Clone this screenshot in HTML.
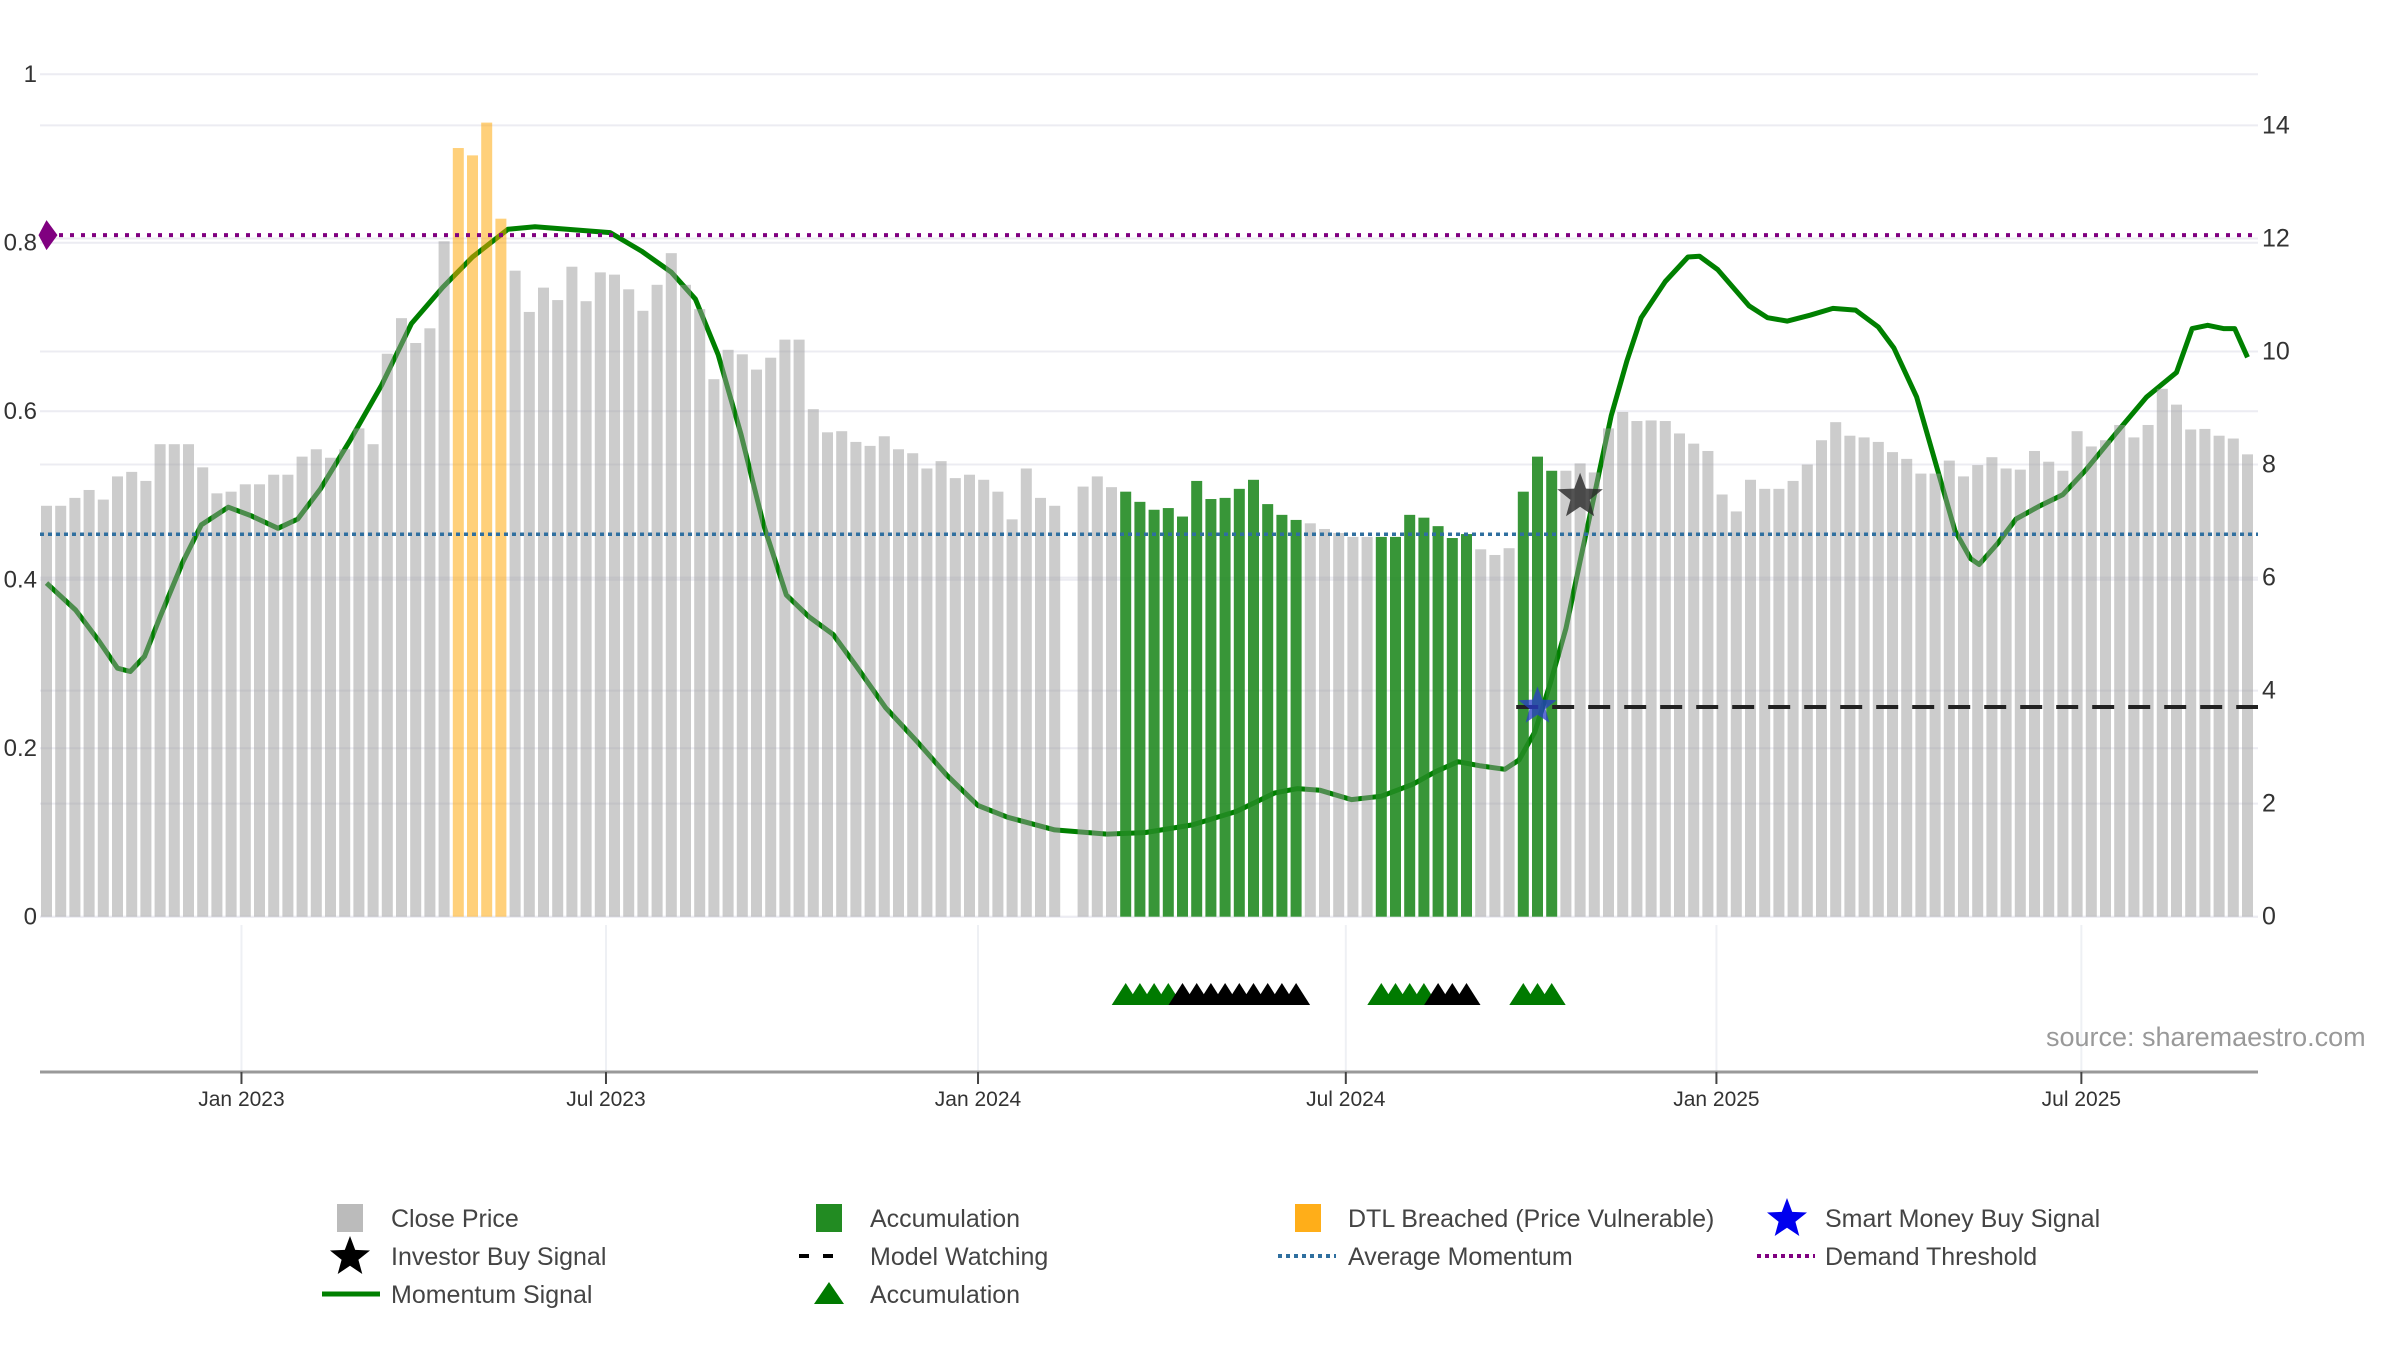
<!DOCTYPE html>
<html><head><meta charset="utf-8"><style>
html,body{margin:0;padding:0;background:#fff;}
svg{display:block;font-family:"Liberation Sans","DejaVu Sans",sans-serif;}
</style></head><body>
<svg id="chart" width="2400" height="1350" viewBox="0 0 2400 1350" xmlns="http://www.w3.org/2000/svg">
<g id="grid"></g>
<g id="lines-under"></g>
<g id="bars"></g>
<g id="overlay"></g>
<g id="axes"></g>
<g id="legend"></g>
</svg>
<script>
const prices = [7.27,7.27,7.41,7.55,7.38,7.79,7.87,7.71,8.36,8.36,8.36,7.95,7.49,7.52,7.65,7.65,7.82,7.82,8.14,8.27,8.12,8.27,8.64,8.36,9.96,10.59,10.15,10.41,11.95,13.6,13.47,14.05,12.35,11.43,10.70,11.13,10.91,11.50,10.89,11.40,11.36,11.10,10.72,11.18,11.74,11.18,10.75,9.51,10.03,9.95,9.68,9.89,10.21,10.21,8.98,8.57,8.59,8.40,8.33,8.50,8.27,8.20,7.93,8.06,7.76,7.82,7.73,7.52,7.03,7.93,7.41,7.27,
null,7.61,7.79,7.60,
7.52,7.34,7.20,7.23,7.08,7.71,7.39,7.41,7.57,7.73,7.30,7.11,7.02,
6.96,6.86,6.79,6.72,6.72,
6.72,6.72,7.11,7.06,6.91,6.70,6.77,
6.50,6.40,6.52,
7.52,8.14,7.89,
7.89,8.02,7.86,8.64,8.93,8.77,8.78,8.77,8.55,8.37,8.24,7.47,7.17,7.73,7.57,7.57,7.71,8.0,8.43,8.75,8.51,8.48,8.40,8.22,8.10,7.84,7.84,8.07,7.79,7.99,8.13,7.93,7.91,8.24,8.05,7.89,8.59,8.32,8.43,8.70,8.48,8.70,9.34,9.06,8.62,8.63,8.51,8.46,8.18];
const accumBarIdx = [76,77,78,79,80,81,82,83,84,85,86,87,88,94,95,96,97,98,99,100,104,105,106];
const dtlBarIdx = [29,30,31,32];
const momWeek = [0,2.05,3.66,5.0,5.9,6.9,8.0,9.6,10.9,12.8,14.4,16.3,17.7,19.3,21.4,23.6,25.7,27.9,30.0,32.5,34.4,39.7,41.9,44.0,45.7,47.3,48.9,50.5,52.1,53.7,55.4,57.0,59.1,61.3,63.4,65.6,67.7,71.0,74.7,77.4,80.7,83.8,86.5,88.1,89.7,91.9,94.0,96.2,97.8,99.4,101.0,102.7,103.7,104.8,105.9,107.0,108.0,109.1,110.2,111.3,112.3,114.0,115.6,116.4,117.7,119.9,121.2,122.6,124.2,125.8,127.4,129.0,130.1,131.7,132.8,134.4,135.5,136.1,137.4,138.7,140.3,142.0,143.6,145.7,147.9,150.0,151.1,152.2,153.3,154.1,155.0];
const momValue = [0.396,0.364,0.328,0.295,0.291,0.309,0.356,0.421,0.465,0.486,0.476,0.461,0.472,0.508,0.566,0.631,0.704,0.747,0.783,0.816,0.819,0.812,0.790,0.765,0.733,0.667,0.573,0.465,0.382,0.356,0.335,0.298,0.248,0.208,0.168,0.132,0.118,0.103,0.098,0.100,0.109,0.125,0.147,0.152,0.150,0.139,0.143,0.157,0.172,0.184,0.179,0.175,0.186,0.219,0.277,0.342,0.422,0.508,0.595,0.660,0.711,0.754,0.783,0.784,0.768,0.725,0.711,0.707,0.714,0.722,0.720,0.700,0.675,0.617,0.552,0.458,0.425,0.418,0.443,0.472,0.487,0.501,0.530,0.573,0.617,0.646,0.698,0.702,0.698,0.698,0.664];
const accumTriIdx = [76,77,78,79,94,95,96,97,104,105,106];
const watchTriIdx = [80,81,82,83,84,85,86,87,88,98,99,100];
const demandThreshold = [0.809];
const averageMomentum = [0.454];
const modelWatchLevel = [3.71];
const modelWatchStart = [103.5];
const investorBuy = [108, 7.43];
const smartMoneyBuy = [105, 3.72];
const leftTicks = [0,0.2,0.4,0.6,0.8,1];
const leftTickLabels = ["0","0.2","0.4","0.6","0.8","1"];
const rightTicks = [0,2,4,6,8,10,12,14];
const dateTickIdx = [13.73,39.4,65.6,91.5,117.6,143.3];
const dateTickLabels = ["Jan 2023","Jul 2023","Jan 2024","Jul 2024","Jan 2025","Jul 2025"];

const NS="http://www.w3.org/2000/svg";
const X0=46.5, DX=14.2, Y0=916.7, PL=40, PR=2258;
function xS(i){return X0+i*DX;}
function yP(p){return Y0-p*56.52;}
function yM(v){return Y0-v*842.5;}
function mk(tag,attrs,parent){const e=document.createElementNS(NS,tag);for(const k in attrs)e.setAttribute(k,attrs[k]);parent.appendChild(e);return e;}
const G=id=>document.getElementById(id);

const grid=G('grid');
rightTicks.forEach(t=>{const l=mk('line',{x1:PL,x2:PR,y1:yP(t),y2:yP(t),stroke:'#ececf2','stroke-width':2},grid);

});
leftTicks.forEach(t=>{const l=mk('line',{x1:PL,x2:PR,y1:yM(t),y2:yM(t),stroke:'#ececf2','stroke-width':2},grid);

});
dateTickIdx.forEach(t=>{const l=mk('line',{x1:xS(t),x2:xS(t),y1:925,y2:1074,stroke:'#eef0f4','stroke-width':2},grid);

});

let d='';momWeek.forEach((w,k)=>{d+=(k?'L':'M')+xS(w).toFixed(1)+' '+yM(momValue[k]).toFixed(1)+' ';});
const ml=mk('path',{d:d,fill:'none',stroke:'#008000','stroke-width':5,'stroke-linejoin':'round'},G('lines-under'));



const bars=G('bars');const BW=11;
prices.forEach((p,i)=>{if(p==null)return;
 let fill='#999999',op=0.5,name='close-price-bar';
 if(dtlBarIdx.includes(i)){fill='#FFA500';op=0.52;name='dtl-breached-bar';}
 if(accumBarIdx.includes(i)){fill='#228B22';op=0.9;name='accumulation-bar';}
 const r=mk('rect',{x:xS(i)-BW/2,y:yP(p),width:BW,height:Y0-yP(p),fill:fill,'fill-opacity':op},bars);
 
 
});

const ov=G('overlay');
let l1=mk('line',{x1:PL+8,x2:PR,y1:yM(demandThreshold[0]),y2:yM(demandThreshold[0]),stroke:'#800080','stroke-width':4,'stroke-dasharray':'4 7'},ov);


let dm=mk('path',{d:`M${X0} ${yM(demandThreshold[0])-15} L${X0+11} ${yM(demandThreshold[0])} L${X0} ${yM(demandThreshold[0])+15} L${X0-8} ${yM(demandThreshold[0])} Z`,fill:'#800080'},ov);


let l2=mk('line',{x1:PL,x2:PR,y1:yM(averageMomentum[0]),y2:yM(averageMomentum[0]),stroke:'#2f6f9f','stroke-width':3.5,'stroke-dasharray':'4 4'},ov);


let l3=mk('line',{x1:xS(modelWatchStart[0]),x2:PR,y1:yP(modelWatchLevel[0]),y2:yP(modelWatchLevel[0]),stroke:'#222','stroke-width':4,'stroke-dasharray':'22 14'},ov);


function star(cx,cy,R,fill,parent){let pts=[];for(let k=0;k<10;k++){const a=-Math.PI/2+k*Math.PI/5;const r=k%2?R*0.42:R;pts.push((cx+r*Math.cos(a)).toFixed(1)+','+(cy+r*Math.sin(a)).toFixed(1));}
 return mk('polygon',{points:pts.join(' '),fill:fill},parent);}
let s1=star(xS(investorBuy[0]),yP(investorBuy[1]),24,'rgba(40,40,40,0.8)',ov);


let s2=star(xS(smartMoneyBuy[0]),yP(smartMoneyBuy[1]),20,'rgba(40,60,200,0.75)',ov);



function tri(i,fill,name){const cx=xS(i);const t=mk('polygon',{points:`${cx-14},1005 ${cx},983 ${cx+14},1005`,fill:fill},ov);
 
 }
accumTriIdx.forEach(i=>tri(i,'#007a00','accumulation-triangle'));
watchTriIdx.forEach(i=>tri(i,'#000','model-watching-triangle'));

const ax=G('axes');
let bl=mk('line',{x1:PL,x2:PR,y1:1072,y2:1072,stroke:'#999','stroke-width':3},ax);


dateTickIdx.forEach((t,k)=>{const tk=mk('line',{x1:xS(t),x2:xS(t),y1:1072,y2:1084,stroke:'#444','stroke-width':2},ax);
 
 
 const tx=mk('text',{x:xS(t),y:1106,'text-anchor':'middle','font-size':21,fill:'#333'},ax);tx.textContent=dateTickLabels[k];
 
 });
leftTicks.forEach((t,k)=>{const tx=mk('text',{x:37,y:yM(t)+8,'text-anchor':'end','font-size':24,fill:'#333'},ax);tx.textContent=leftTickLabels[k];
 
 });
rightTicks.forEach(t=>{const tx=mk('text',{x:2262,y:yP(t)+8,'font-size':25,fill:'#333'},ax);tx.textContent=String(t);
 
 });
let src=mk('text',{x:2046,y:1046,'font-size':27,fill:'#999'},ax);src.textContent='source: sharemaestro.com';



const lg=G('legend');
const rows=[1218,1256,1294], ic=[350,829,1308,1787], tx=[391,870,1348,1825];
function ltext(c,r,s){const t=mk('text',{x:tx[c],y:rows[r]+9,'font-size':25,fill:'#444'},lg);t.textContent=s;
 
 }
let e;
e=mk('rect',{x:ic[0]-13,y:rows[0]-14,width:26,height:28,fill:'#bbb'},lg);ltext(0,0,'Close Price');
e=mk('rect',{x:ic[1]-13,y:rows[0]-14,width:26,height:28,fill:'#228B22'},lg);ltext(1,0,'Accumulation');
e=mk('rect',{x:ic[2]-13,y:rows[0]-14,width:26,height:28,fill:'#FFA500','fill-opacity':0.9},lg);ltext(2,0,'DTL Breached (Price Vulnerable)');
e=star(ic[3],rows[0]+1,21,'#0000ee',lg);ltext(3,0,'Smart Money Buy Signal');
e=star(ic[0],rows[1]+1,21,'#000',lg);ltext(0,1,'Investor Buy Signal');
e=mk('line',{x1:ic[1]-30,x2:ic[1]+8,y1:rows[1],y2:rows[1],stroke:'#000','stroke-width':4,'stroke-dasharray':'10 14'},lg);ltext(1,1,'Model Watching');
e=mk('line',{x1:ic[2]-30,x2:ic[2]+28,y1:rows[1],y2:rows[1],stroke:'#2f6f9f','stroke-width':4,'stroke-dasharray':'4 4'},lg);ltext(2,1,'Average Momentum');
e=mk('line',{x1:ic[3]-30,x2:ic[3]+28,y1:rows[1],y2:rows[1],stroke:'#800080','stroke-width':4,'stroke-dasharray':'4 4'},lg);ltext(3,1,'Demand Threshold');
e=mk('line',{x1:ic[0]-28,x2:ic[0]+30,y1:rows[2],y2:rows[2],stroke:'#008000','stroke-width':5},lg);ltext(0,2,'Momentum Signal');
e=mk('polygon',{points:`${ic[1]-15},${rows[2]+10} ${ic[1]},${rows[2]-12} ${ic[1]+15},${rows[2]+10}`,fill:'#007a00'},lg);ltext(1,2,'Accumulation');
</script>
</body></html>
